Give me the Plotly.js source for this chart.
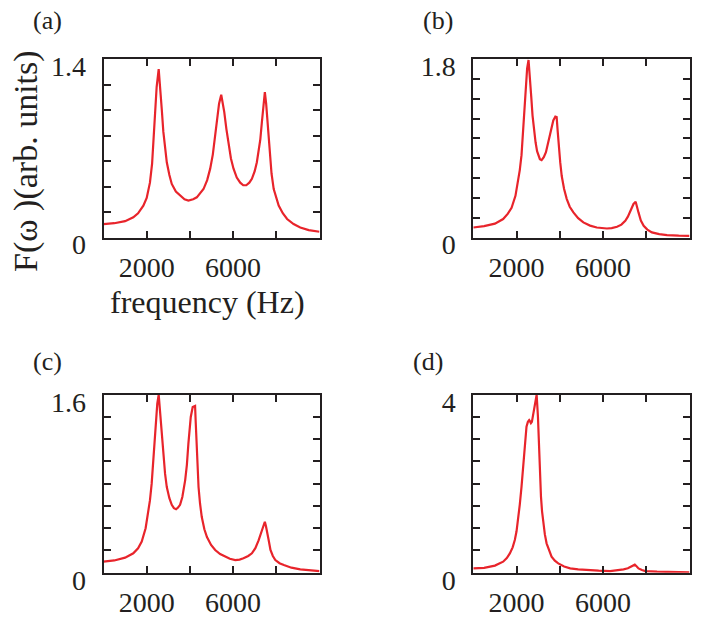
<!DOCTYPE html>
<html>
<head>
<meta charset="utf-8">
<script src="https://cdn.plot.ly/plotly-3.0.1.min.js"></script>
<style>html,body{margin:0;padding:0;background:#fff;}#chart{width:701px;height:627px;}</style>
</head>
<body>
<div id="chart"></div>
<script>
// ---- data ----
const freqA = [0,500,1000,1380,1600,1845,2000,2150,2250,2350,2460,2555,2620,2700,2770,2850,2930,3050,3160,3350,3545,3750,3930,4150,4320,4500,4630,4800,4940,5060,5170,5260,5350,5450,5530,5590,5690,5790,5900,6020,6170,6330,6470,6610,6750,6870,7000,7100,7180,7260,7330,7400,7470,7530,7590,7690,7780,7880,8000,8110,8300,8500,8800,9110,9500,10000];
const fA = [0.105,0.112,0.128,0.158,0.19,0.25,0.31,0.43,0.58,0.85,1.18,1.32,1.20,1.00,0.83,0.70,0.59,0.49,0.42,0.36,0.33,0.30,0.29,0.30,0.315,0.35,0.38,0.45,0.54,0.65,0.80,0.93,1.05,1.12,1.05,0.985,0.85,0.72,0.62,0.54,0.47,0.43,0.41,0.41,0.43,0.46,0.52,0.59,0.67,0.77,0.90,1.05,1.14,1.05,0.92,0.64,0.50,0.38,0.30,0.25,0.19,0.145,0.105,0.079,0.058,0.045];

const freqB = [0,500,1000,1380,1600,1770,1950,2070,2150,2230,2300,2380,2440,2490,2555,2620,2680,2740,2810,2880,2950,3005,3080,3160,3260,3360,3450,3545,3630,3700,3795,3855,3900,3950,4020,4090,4200,4320,4460,4630,4850,5090,5400,5710,6000,6180,6400,6650,6850,7030,7150,7260,7350,7410,7510,7570,7640,7750,7880,8050,8260,8600,8960,9500,10000];
const fB = [0.101,0.115,0.14,0.186,0.24,0.30,0.42,0.557,0.68,0.83,1.05,1.33,1.55,1.705,1.79,1.64,1.42,1.23,1.08,0.96,0.87,0.83,0.79,0.78,0.81,0.86,0.94,1.03,1.12,1.18,1.22,1.215,1.08,0.93,0.76,0.62,0.49,0.39,0.31,0.253,0.195,0.152,0.12,0.101,0.093,0.091,0.095,0.108,0.13,0.169,0.21,0.27,0.32,0.338,0.361,0.32,0.253,0.17,0.118,0.08,0.051,0.034,0.024,0.019,0.017];

const freqC = [0,500,1000,1380,1600,1770,1950,2070,2150,2230,2300,2380,2440,2490,2555,2630,2700,2770,2850,2930,3050,3160,3260,3360,3450,3545,3650,3780,3860,3930,3990,4040,4130,4240,4270,4300,4350,4400,4470,4550,4670,4790,4980,5170,5400,5630,5850,6100,6300,6480,6700,6870,7030,7180,7290,7370,7470,7520,7570,7650,7730,7840,7955,8150,8350,8700,9110,9500,10000];
const fC = [0.099,0.11,0.135,0.174,0.22,0.279,0.40,0.533,0.65,0.80,1.0,1.22,1.40,1.52,1.60,1.43,1.22,1.04,0.89,0.77,0.67,0.61,0.58,0.57,0.585,0.61,0.68,0.83,0.97,1.16,1.30,1.40,1.49,1.50,1.35,1.19,0.95,0.77,0.62,0.50,0.39,0.32,0.25,0.204,0.168,0.144,0.125,0.114,0.118,0.129,0.15,0.174,0.22,0.29,0.36,0.41,0.458,0.42,0.38,0.29,0.204,0.15,0.114,0.085,0.069,0.045,0.030,0.021,0.015];

const freqD = [0,500,1000,1380,1550,1690,1820,1920,2000,2070,2150,2230,2300,2350,2410,2460,2525,2585,2625,2665,2710,2770,2820,2860,2930,2990,3050,3090,3130,3180,3240,3310,3390,3500,3620,3770,3930,4200,4480,4850,5250,5800,6330,6700,6950,7150,7330,7470,7560,7640,7800,7955,8500,9110,10000];
const fD = [0.097,0.11,0.16,0.247,0.33,0.434,0.57,0.734,0.93,1.18,1.53,1.93,2.30,2.61,2.98,3.28,3.39,3.43,3.40,3.36,3.39,3.58,3.75,3.88,4.0,3.51,2.61,2.10,1.71,1.38,1.11,0.86,0.66,0.49,0.36,0.27,0.21,0.14,0.097,0.075,0.06,0.045,0.037,0.05,0.075,0.10,0.135,0.18,0.14,0.097,0.06,0.037,0.022,0.015,0.008];

const xTickVals = [2000,4000,6000,8000];
const xTickText = ['2000','','6000',''];
const yTicksA = [0,0.2,0.4,0.6,0.8,1.0,1.2,1.4];
const yTicksB = [0,0.2,0.4,0.6,0.8,1.0,1.2,1.4,1.6,1.8];
const yTicksC = [0,0.2,0.4,0.6,0.8,1.0,1.2,1.4,1.6];
const yTicksD = [0,0.5,1.0,1.5,2.0,2.5,3.0,3.5,4.0];
const yLabelsA = ['0','','','','','','','1.4'];
const yLabelsB = ['0','','','','','','','','','1.8'];
const yLabelsC = ['0','','','','','','','','1.6'];
const yLabelsD = ['0','','','','','','','','4'];
const panelLabels = ['(a)','(b)','(c)','(d)'];
const xTitle = 'frequency (Hz)';
const yTitle = 'F(ω )(arb. units)';

// ---- styling ----
const INK = '#231f20';
const RED = '#e8242b';
const FONT = '"Liberation Serif", "Times New Roman", Times, serif';
const W = 701, H = 627;
const colL = [103.5/W, 319.5/W], colR = [473.3/W, 689.5/W];
const rowT = [1-237.5/H, 1-59/H], rowB = [1-572.7/H, 1-394.7/H];

function xax(domain, anchor){
  return {domain, anchor, range:[0,10000], showline:true, linewidth:2, linecolor:INK, mirror:'ticks',
    ticks:'inside', ticklen:7, tickwidth:2, tickcolor:INK, showgrid:false, zeroline:false,
    tickmode:'array', tickvals:xTickVals, ticktext:xTickText, ticklabelstandoff:4,
    tickfont:{family:FONT, size:28, color:INK}, fixedrange:true};
}
function yax(domain, anchor, range, vals, text){
  return {domain, anchor, range, showline:true, linewidth:2, linecolor:INK, mirror:'ticks',
    ticks:'inside', ticklen:7, tickwidth:2, tickcolor:INK, showgrid:false, zeroline:false,
    tickmode:'array', tickvals:vals, ticktext:text, ticklabelstandoff:10, ticklabelshift:7,
    tickfont:{family:FONT, size:28, color:INK}, fixedrange:true};
}
function tr(x, y, xa, ya){
  return {x, y, xaxis:xa, yaxis:ya, type:'scatter', mode:'lines', line:{color:RED, width:2.2}, hoverinfo:'skip'};
}

const data = [
  tr(freqA, fA, 'x', 'y'),
  tr(freqB, fB, 'x2', 'y2'),
  tr(freqC, fC, 'x3', 'y3'),
  tr(freqD, fD, 'x4', 'y4')
];

function ann(text, px, py, size, angle){
  return {text, x:px/W, y:1-py/H, xref:'paper', yref:'paper', showarrow:false,
    xanchor:'center', yanchor:'middle', textangle:angle||0, font:{family:FONT, size, color:INK}};
}

const layout = {
  width:W, height:H, margin:{l:0,r:0,t:0,b:0}, paper_bgcolor:'#fff', plot_bgcolor:'#fff',
  showlegend:false,
  xaxis: xax(colL,'y'),  yaxis: yax(rowT,'x',[0,1.4],yTicksA,yLabelsA),
  xaxis2:xax(colR,'y2'), yaxis2:yax(rowT,'x2',[0,1.8],yTicksB,yLabelsB),
  xaxis3:xax(colL,'y3'), yaxis3:yax(rowB,'x3',[0,1.6],yTicksC,yLabelsC),
  xaxis4:xax(colR,'y4'), yaxis4:yax(rowB,'x4',[0,4],yTicksD,yLabelsD),
  annotations:[
    ann(panelLabels[0], 47, 20, 26),
    ann(panelLabels[1], 438, 20, 26),
    ann(panelLabels[2], 47, 361, 26),
    ann(panelLabels[3], 428, 361, 26),
    ann(xTitle, 207, 302, 32),
    ann(yTitle, 26, 161, 34, -90)
  ]
};

Plotly.newPlot('chart', data, layout, {staticPlot:true, displayModeBar:false});
</script>
</body>
</html>
